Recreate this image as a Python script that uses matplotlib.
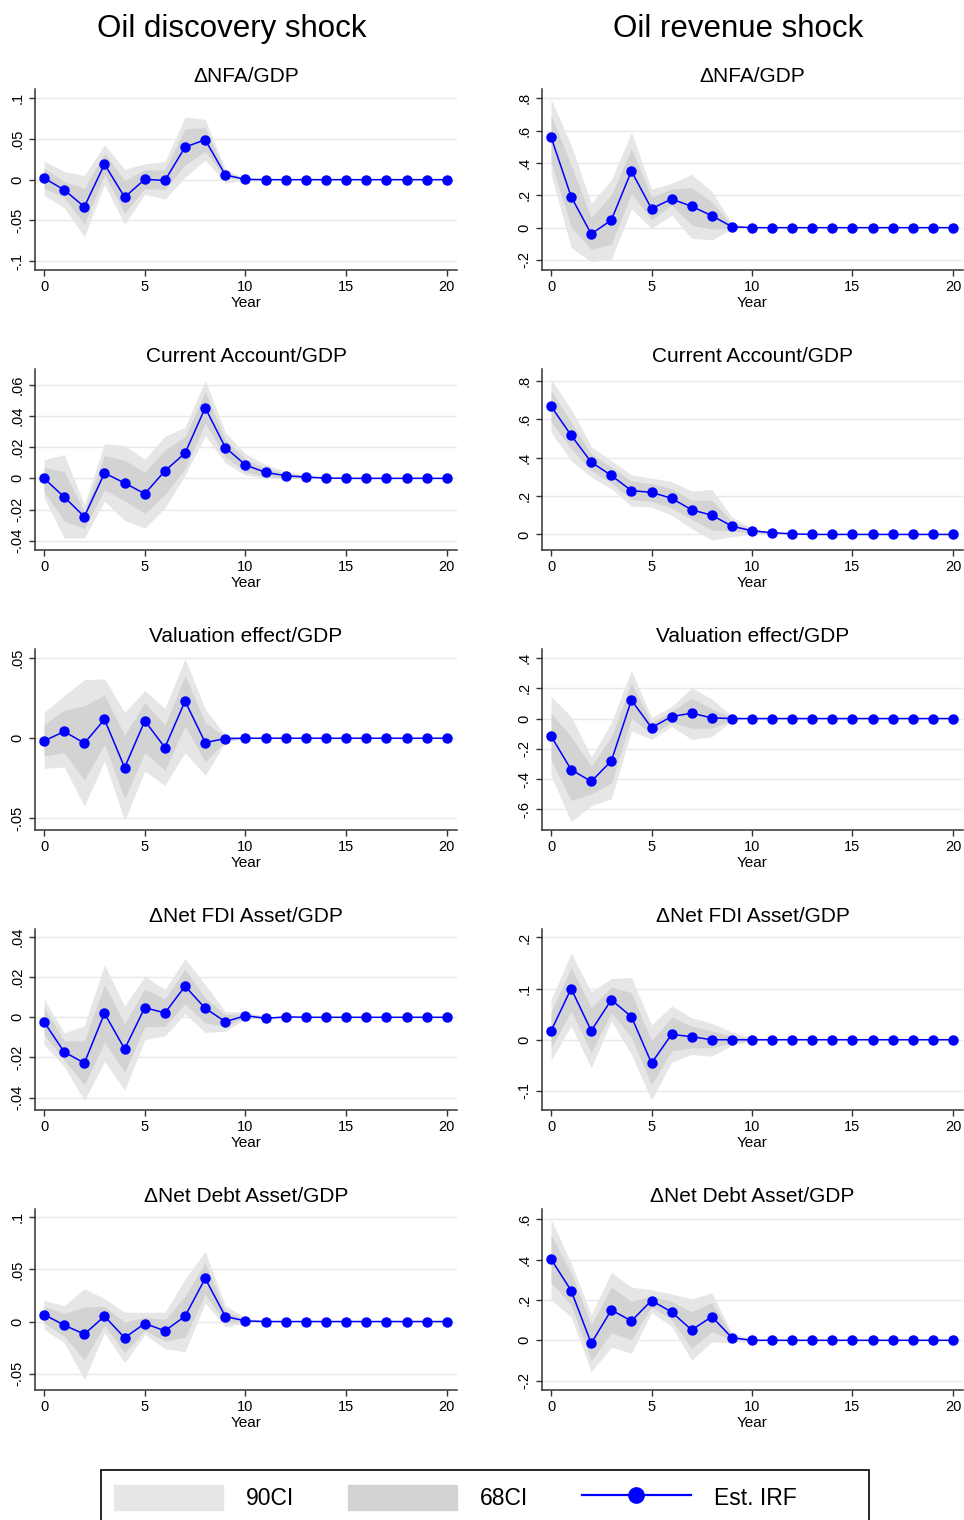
import numpy as np
import matplotlib.pyplot as plt
from matplotlib.patches import Patch, Rectangle
from matplotlib.lines import Line2D
from matplotlib.ticker import FixedLocator, FuncFormatter

plt.rcParams['font.family'] = ['Liberation Sans', 'DejaVu Sans']

years = np.arange(21)


def pad(vals):
    # responses are flat at zero after the listed years
    return np.array(vals + [0.0] * (21 - len(vals)))


# --- Oil discovery shock ---
nfa_d_irf = pad([0.002, -0.0126, -0.0333, 0.019, -0.0215, 0.0004, -0.001, 0.040, 0.049, 0.0057, 0.0004])
nfa_d_hi90 = pad([0.023, 0.010, 0.005, 0.043, 0.0126, 0.0195, 0.022, 0.077, 0.074, 0.013, 0.0008])
nfa_d_lo90 = pad([-0.0195, -0.0345, -0.070, -0.006, -0.055, -0.018, -0.024, 0.003, 0.024, -0.0045, -0.0004])
nfa_d_hi68 = pad([0.014, -0.002, -0.0106, 0.0325, -0.001, 0.012, 0.012, 0.0626, 0.0638, 0.0093, 0.0004])
nfa_d_lo68 = pad([-0.0106, -0.022, -0.055, 0.006, -0.041, -0.011, -0.012, 0.018, 0.0346, 0.002, 0.0])

ca_d_irf = pad([0.0, -0.012, -0.0246, 0.0034, -0.003, -0.0099, 0.0048, 0.0162, 0.0453, 0.0198, 0.0086, 0.0038, 0.0017, 0.0008, 0.0002])
ca_d_hi90 = pad([0.012, 0.0152, -0.0168, 0.0223, 0.021, 0.0122, 0.027, 0.0328, 0.063, 0.0295, 0.0158, 0.0088, 0.0046, 0.002, 0.0008])
ca_d_lo90 = pad([-0.0126, -0.0383, -0.0383, -0.0147, -0.027, -0.032, -0.019, 0.002, 0.0274, 0.0099, 0.002, 0.0, 0.0, 0.0, 0.0])
ca_d_hi68 = pad([0.007, 0.0042, -0.0215, 0.0147, 0.0116, 0.0038, 0.0183, 0.0267, 0.0558, 0.0248, 0.0122, 0.0063, 0.0032, 0.0015, 0.0004])
ca_d_lo68 = pad([-0.0084, -0.0274, -0.0322, -0.0074, -0.0143, -0.0225, -0.0105, 0.0063, 0.0354, 0.0137, 0.0042, 0.001, 0.0004, 0.0, 0.0])

val_d_irf = pad([-0.0017, 0.0042, -0.0031, 0.0117, -0.0183, 0.0108, -0.0058, 0.0231, -0.0027, -0.0002])
val_d_hi90 = pad([0.016, 0.0265, 0.0365, 0.037, 0.016, 0.0298, 0.0185, 0.0494, 0.0181, 0.0019])
val_d_lo90 = pad([-0.0188, -0.0179, -0.0423, -0.0142, -0.0513, -0.0204, -0.0294, -0.009, -0.0231, -0.0027])
val_d_hi68 = pad([0.0085, 0.0175, 0.0202, 0.0269, 0.0019, 0.0223, 0.0081, 0.039, 0.0098, 0.001])
val_d_lo68 = pad([-0.011, -0.009, -0.026, -0.0037, -0.0377, -0.009, -0.0198, 0.0077, -0.0148, -0.0017])

fdi_d_irf = pad([-0.0023, -0.0173, -0.0228, 0.002, -0.0158, 0.0048, 0.0022, 0.0155, 0.0045, -0.0022, 0.0008, -0.0005, 0.0002])
fdi_d_hi90 = pad([0.0092, -0.0078, -0.0042, 0.0262, 0.0055, 0.0205, 0.0138, 0.0292, 0.0163, 0.0028, 0.0028, 0.0005, 0.0002])
fdi_d_lo90 = pad([-0.0137, -0.0245, -0.0415, -0.022, -0.0362, -0.0112, -0.0092, 0.0018, -0.0075, -0.007, -0.0008, -0.0008, 0.0])
fdi_d_hi68 = pad([0.005, -0.0117, -0.0117, 0.0163, -0.0033, 0.0142, 0.0092, 0.0238, 0.0097, 0.0013, 0.0018, 0.0002, 0.0002])
fdi_d_lo68 = pad([-0.0087, -0.0212, -0.0337, -0.0125, -0.0273, -0.0048, -0.0045, 0.0068, -0.0028, -0.0045, -0.0003, -0.0005, 0.0])

debt_d_irf = pad([0.0067, -0.0035, -0.0121, 0.0051, -0.0156, -0.0019, -0.0089, 0.0051, 0.0414, 0.0048, 0.0006])
debt_d_hi90 = pad([0.0204, 0.0153, 0.0315, 0.022, 0.0089, 0.0089, 0.0089, 0.0408, 0.0672, 0.0153, 0.0035, 0.0006])
debt_d_lo90 = pad([-0.0076, -0.0204, -0.0554, -0.0108, -0.0395, -0.0124, -0.0261, -0.029, 0.0178, -0.0051, -0.0013, -0.0003])
debt_d_hi68 = pad([0.0146, 0.0076, 0.014, 0.0146, -0.0006, 0.0041, 0.0019, 0.0242, 0.0567, 0.0099, 0.0019])
debt_d_lo68 = pad([-0.0013, -0.014, -0.0369, -0.0035, -0.0299, -0.0086, -0.0188, -0.015, 0.0258, -0.0013, -0.0003])

# --- Oil revenue shock ---
nfa_r_irf = pad([0.561, 0.192, -0.039, 0.047, 0.35, 0.1175, 0.177, 0.132, 0.074, 0.006])
nfa_r_hi90 = pad([0.796, 0.511, 0.15, 0.295, 0.59, 0.239, 0.274, 0.33, 0.223, 0.027, 0.002])
nfa_r_lo90 = pad([0.33, -0.124, -0.21, -0.194, 0.115, -0.004, 0.078, -0.066, -0.076, -0.008])
nfa_r_hi68 = pad([0.697, 0.388, 0.062, 0.202, 0.49, 0.19, 0.239, 0.247, 0.161, 0.012])
nfa_r_lo68 = pad([0.408, 0.006, -0.134, -0.103, 0.212, 0.047, 0.14, 0.016, -0.01, -0.004])

ca_r_irf = pad([0.667, 0.516, 0.376, 0.307, 0.228, 0.219, 0.188, 0.128, 0.1, 0.043, 0.019, 0.009, 0.003])
ca_r_hi90 = pad([0.807, 0.652, 0.457, 0.384, 0.31, 0.293, 0.276, 0.226, 0.234, 0.091, 0.031, 0.014, 0.005])
ca_r_lo90 = pad([0.531, 0.384, 0.298, 0.238, 0.147, 0.143, 0.1, 0.031, -0.029, -0.012, 0.002])
ca_r_hi68 = pad([0.75, 0.583, 0.419, 0.35, 0.278, 0.264, 0.238, 0.178, 0.178, 0.066, 0.026, 0.01, 0.003])
ca_r_lo68 = pad([0.586, 0.445, 0.333, 0.269, 0.181, 0.172, 0.138, 0.078, 0.024, 0.017, 0.009, 0.003])

val_r_irf = pad([-0.1156, -0.338, -0.416, -0.28, 0.122, -0.06, 0.013, 0.036, 0.004])
val_r_hi90 = pad([0.147, 0.013, -0.253, -0.027, 0.32, 0.007, 0.08, 0.204, 0.129, 0.018])
val_r_lo90 = pad([-0.376, -0.682, -0.576, -0.531, -0.08, -0.138, -0.053, -0.138, -0.12, -0.013])
val_r_hi68 = pad([0.036, -0.12, -0.316, -0.12, 0.236, -0.027, 0.047, 0.136, 0.064, 0.009])
val_r_lo68 = pad([-0.271, -0.542, -0.498, -0.427, 0.002, -0.102, -0.027, -0.064, -0.064, -0.009])

fdi_r_irf = pad([0.017, 0.1, 0.0176, 0.078, 0.045, -0.0458, 0.0105, 0.0059])
fdi_r_hi90 = pad([0.078, 0.169, 0.0935, 0.1196, 0.1216, 0.0288, 0.066, 0.043, 0.032, 0.015, 0.004, 0.0007])
fdi_r_lo90 = pad([-0.0405, 0.0268, -0.055, 0.0366, -0.0288, -0.118, -0.0438, -0.0288, -0.032, -0.011, -0.0026, -0.0007])
fdi_r_hi68 = pad([0.054, 0.141, 0.0627, 0.103, 0.092, -0.0026, 0.044, 0.0268, 0.017, 0.0072, 0.002])
fdi_r_lo68 = pad([-0.0157, 0.0562, -0.0255, 0.053, 0.004, -0.0876, -0.0222, -0.0157, -0.0157, -0.0059, -0.0013])

debt_r_irf = pad([0.402, 0.246, -0.015, 0.15, 0.096, 0.197, 0.14, 0.051, 0.117, 0.013])
debt_r_hi90 = pad([0.6, 0.382, 0.126, 0.337, 0.263, 0.25, 0.23, 0.205, 0.236, 0.035, 0.007, 0.002])
debt_r_lo90 = pad([0.2, 0.117, -0.155, -0.035, -0.064, 0.137, 0.068, -0.098, -0.007, -0.012, -0.003])
debt_r_hi68 = pad([0.522, 0.332, 0.076, 0.263, 0.192, 0.22, 0.192, 0.142, 0.187, 0.023, 0.002])
debt_r_lo68 = pad([0.286, 0.175, -0.101, 0.038, 0.002, 0.167, 0.101, -0.04, 0.043, 0.002])

titles = ["\u0394NFA/GDP", "Current Account/GDP", "Valuation effect/GDP",
          "\u0394Net FDI Asset/GDP", "\u0394Net Debt Asset/GDP"]

# (irf, lo90, hi90, lo68, hi68, yticks, ylim)
discovery = [
    (nfa_d_irf, nfa_d_lo90, nfa_d_hi90, nfa_d_lo68, nfa_d_hi68,
     [-0.1, -0.05, 0, 0.05, 0.1], (-0.111, 0.1114)),
    (ca_d_irf, ca_d_lo90, ca_d_hi90, ca_d_lo68, ca_d_hi68,
     [-0.04, -0.02, 0, 0.02, 0.04, 0.06], (-0.046, 0.0702)),
    (val_d_irf, val_d_lo90, val_d_hi90, val_d_lo68, val_d_hi68,
     [-0.05, 0, 0.05], (-0.0572, 0.0556)),
    (fdi_d_irf, fdi_d_lo90, fdi_d_hi90, fdi_d_lo68, fdi_d_hi68,
     [-0.04, -0.02, 0, 0.02, 0.04], (-0.0462, 0.044)),
    (debt_d_irf, debt_d_lo90, debt_d_hi90, debt_d_lo68, debt_d_hi68,
     [-0.05, 0, 0.05, 0.1], (-0.0657, 0.108)),
]
revenue = [
    (nfa_r_irf, nfa_r_lo90, nfa_r_hi90, nfa_r_lo68, nfa_r_hi68,
     [-0.2, 0, 0.2, 0.4, 0.6, 0.8], (-0.262, 0.858)),
    (ca_r_irf, ca_r_lo90, ca_r_hi90, ca_r_lo68, ca_r_hi68,
     [0, 0.2, 0.4, 0.6, 0.8], (-0.081, 0.861)),
    (val_r_irf, val_r_lo90, val_r_hi90, val_r_lo68, val_r_hi68,
     [-0.6, -0.4, -0.2, 0, 0.2, 0.4], (-0.737, 0.46)),
    (fdi_r_irf, fdi_r_lo90, fdi_r_hi90, fdi_r_lo68, fdi_r_hi68,
     [-0.1, 0, 0.1, 0.2], (-0.1374, 0.2165)),
    (debt_r_irf, debt_r_lo90, debt_r_hi90, debt_r_lo68, debt_r_hi68,
     [-0.2, 0, 0.2, 0.4, 0.6], (-0.246, 0.65)),
]

c90 = "#e6e6e6"
c68 = "#d3d3d3"
irf_blue = "#0000ff"
W, H = 964, 1520


def stata_fmt(v, pos):
    v = round(v, 6)
    if v == 0:
        return "0"
    s = f"{v:g}"
    return s.replace("0.", ".")


fig = plt.figure(figsize=(W / 100, H / 100), dpi=100)

col_left = [35, 542]
col_width = [422, 421]
row_top = [89, 369, 649, 929, 1209]
ax_h = 181

for c, panels in enumerate([discovery, revenue]):
    for r, (irf, lo90, hi90, lo68, hi68, yt, yl) in enumerate(panels):
        ax = fig.add_axes([col_left[c] / W, 1 - (row_top[r] + ax_h) / H,
                           col_width[c] / W, ax_h / H])
        ax.fill_between(years, lo90, hi90, color=c90, lw=0)
        ax.fill_between(years, lo68, hi68, color=c68, lw=0)
        ax.plot(years, irf, color=irf_blue, lw=1.1, marker="o", markersize=6.5,
                zorder=3)
        ax.set_xlim(-0.45, 20.5)
        ax.set_ylim(*yl)
        ax.set_xticks([0, 5, 10, 15, 20])
        ax.yaxis.set_major_locator(FixedLocator(yt))
        ax.yaxis.set_major_formatter(FuncFormatter(stata_fmt))
        ax.grid(axis="y", color="#e8e8e8", lw=1)
        ax.set_axisbelow(True)
        for side in ["top", "right"]:
            ax.spines[side].set_visible(False)
        for side in ["left", "bottom"]:
            ax.spines[side].set_color("#333333")
            ax.spines[side].set_linewidth(1.1)
        ax.tick_params(colors="#333333", length=4, width=1, labelsize=10.5,
                       labelcolor="black")
        for lab in ax.get_yticklabels():
            lab.set_rotation(90)
            lab.set_va("center")
        ax.set_xlabel("Year", fontsize=11, labelpad=1)
        ax.set_title(titles[r], fontsize=15, pad=5)

fig.text(232 / W, 1 - 29 / H, "Oil discovery shock", fontsize=22.5,
         ha="center", va="center")
fig.text(738 / W, 1 - 29 / H, "Oil revenue shock", fontsize=22.5,
         ha="center", va="center")

# legend: entries without frame, box drawn separately (runs off the bottom edge)
handles = [Patch(facecolor=c90, edgecolor=c90),
           Patch(facecolor=c68, edgecolor=c68),
           Line2D([], [], color=irf_blue, lw=1.6, marker="o", markersize=11)]
fig.legend(handles, ["90CI", "68CI", "Est. IRF"], ncol=3,
           loc="upper left", bbox_to_anchor=(114 / W, 1 - 1485 / H),
           fontsize=16.5, frameon=False,
           handlelength=4.75, handleheight=1.27, handletextpad=1.0,
           columnspacing=2.35, borderpad=0, borderaxespad=0)
fig.patches.append(Rectangle((101 / W, -0.01), 768 / W, 1 - 1470 / H + 0.01,
                             transform=fig.transFigure, fill=False,
                             edgecolor="black", lw=1.2))

fig.savefig("out.png", dpi=100)
